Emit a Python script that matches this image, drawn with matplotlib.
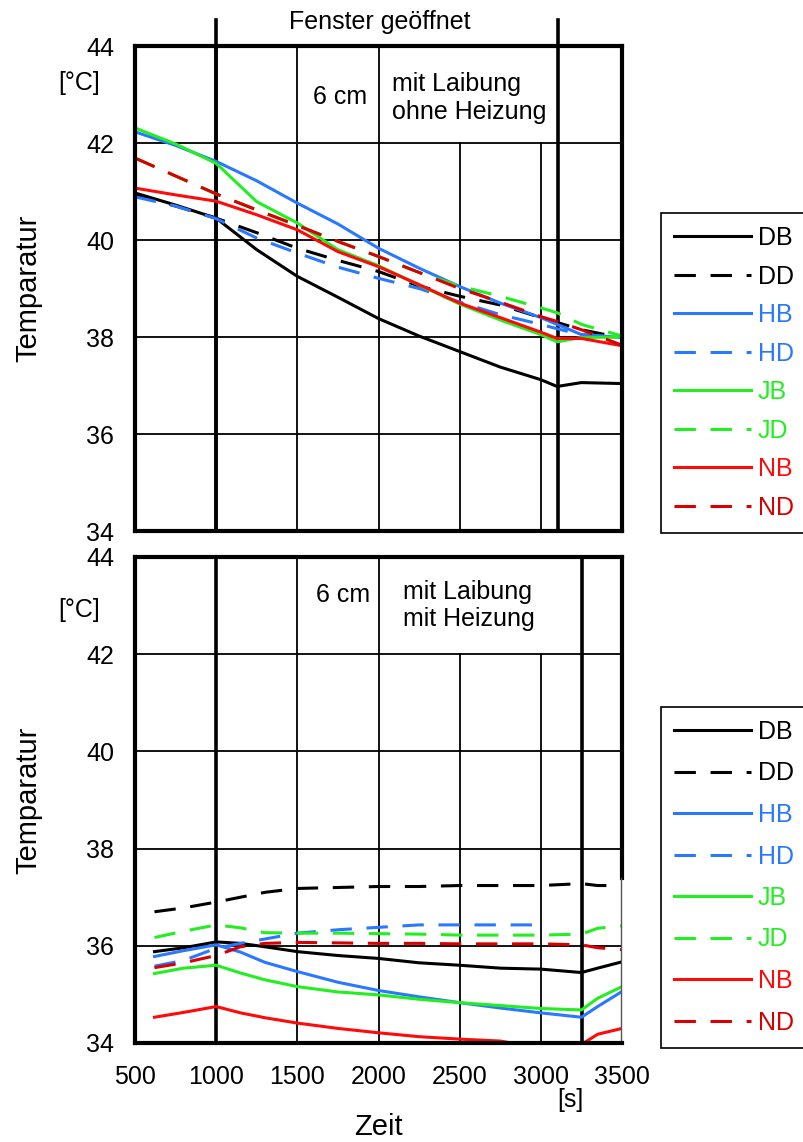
import matplotlib
matplotlib.use("Agg")
import matplotlib.pyplot as plt
import numpy as np

plt.rcParams["font.family"] = ["Liberation Sans", "DejaVu Sans"]

# ---------------------------------------------------------
# DATA
# ---------------------------------------------------------
series = ["DB", "DD", "HB", "HD", "JB", "JD", "NB", "ND"]
colors = {"DB": "black", "DD": "black",
          "HB": "#2a78ff", "HD": "#2a78ff",
          "JB": "#22ee22", "JD": "#22ee22",
          "NB": "#ff0a0a", "ND": "#d80000"}

# top panel: ohne Heizung
t_top = [500, 750, 1000, 1250, 1500, 1750, 2000, 2250, 2500, 2750, 3000, 3100, 3250, 3500]
top_DB = [40.97, 40.72, 40.45, 39.80, 39.25, 38.82, 38.38, 38.02, 37.70, 37.38, 37.12, 36.98, 37.06, 37.04]
top_DD = [40.93, 40.70, 40.45, 40.15, 39.83, 39.58, 39.35, 39.05, 38.84, 38.66, 38.40, 38.30, 38.15, 37.98]
top_HB = [42.23, 41.95, 41.62, 41.22, 40.76, 40.33, 39.83, 39.42, 39.04, 38.70, 38.40, 38.26, 38.05, 37.99]
top_HD = [40.89, 40.70, 40.44, 40.04, 39.73, 39.44, 39.21, 39.00, 38.72, 38.46, 38.26, 38.17, 38.05, 37.99]
top_JB = [42.31, 41.98, 41.58, 40.79, 40.35, 39.80, 39.47, 39.07, 38.68, 38.35, 38.05, 37.90, 37.99, 38.00]
top_JD = [41.69, 41.32, 40.95, 40.62, 40.30, 39.97, 39.66, 39.33, 39.05, 38.84, 38.60, 38.50, 38.26, 38.02]
top_NB = [41.07, 40.93, 40.80, 40.52, 40.21, 39.76, 39.45, 39.08, 38.70, 38.40, 38.10, 37.97, 37.97, 37.82]
top_ND = [41.69, 41.32, 40.95, 40.62, 40.30, 39.97, 39.66, 39.33, 39.00, 38.72, 38.42, 38.32, 38.15, 37.83]

# bottom panel: mit Heizung
t_bot = [620, 800, 1000, 1150, 1300, 1500, 1750, 2000, 2250, 2500, 2750, 3000, 3250, 3350, 3500]
bot_DB = [35.88, 35.96, 36.08, 36.05, 35.98, 35.88, 35.80, 35.74, 35.65, 35.60, 35.54, 35.52, 35.45, 35.54, 35.67]
bot_DD = [36.70, 36.78, 36.90, 37.00, 37.10, 37.18, 37.20, 37.22, 37.22, 37.24, 37.24, 37.24, 37.28, 37.24, 37.24]
bot_HB = [35.78, 35.90, 36.02, 35.87, 35.66, 35.47, 35.25, 35.08, 34.95, 34.83, 34.72, 34.62, 34.53, 34.75, 35.06]
bot_HD = [35.58, 35.70, 35.95, 36.05, 36.14, 36.26, 36.33, 36.38, 36.43, 36.43, 36.43, 36.43, np.nan, np.nan, np.nan]
bot_JB = [35.43, 35.54, 35.60, 35.44, 35.30, 35.16, 35.05, 34.99, 34.90, 34.83, 34.77, 34.71, 34.68, 34.92, 35.16]
bot_JD = [36.17, 36.30, 36.43, 36.37, 36.27, 36.26, 36.26, 36.25, 36.24, 36.22, 36.22, 36.22, 36.24, 36.36, 36.41]
bot_NB = [34.53, 34.63, 34.75, 34.62, 34.52, 34.41, 34.30, 34.21, 34.13, 34.08, 34.04, 33.90, 33.97, 34.18, 34.30]
bot_ND = [35.55, 35.65, 35.80, 35.98, 36.05, 36.07, 36.06, 36.05, 36.05, 36.04, 36.04, 36.04, 36.02, 35.96, 35.92]

top_data = dict(DB=top_DB, DD=top_DD, HB=top_HB, HD=top_HD, JB=top_JB, JD=top_JD, NB=top_NB, ND=top_ND)
bot_data = dict(DB=bot_DB, DD=bot_DD, HB=bot_HB, HD=bot_HD, JB=bot_JB, JD=bot_JD, NB=bot_NB, ND=bot_ND)

yticks = [34, 36, 38, 40, 42, 44]
xticks = [500, 1000, 1500, 2000, 2500, 3000, 3500]

# ---------------------------------------------------------
# FIGURE
# ---------------------------------------------------------
W, H = 804, 1142
fig = plt.figure(figsize=(W / 100, H / 100), dpi=100)

ax1 = fig.add_axes([135 / W, 1 - 531 / H, 487 / W, 485 / H])
ax2 = fig.add_axes([135 / W, 1 - 1043 / H, 487 / W, 486 / H])

fs = 18
lw_data = 2.2
dash = (7, 4.8)


def style_panel(ax, t, data):
    for name in series:
        ls = "-" if name.endswith("B") else (0, dash)
        ax.plot(t, data[name], color=colors[name], lw=lw_data, ls=ls, label=name)
    ax.set_xlim(500, 3500)
    ax.set_ylim(34, 44)
    ax.set_xticks(xticks)
    ax.set_yticks(yticks)
    ax.tick_params(length=0, labelsize=fs)
    ax.tick_params(axis="y", pad=15)
    ax.tick_params(axis="x", pad=16)
    for s in ax.spines.values():
        s.set_linewidth(3)
    # grid (table like)
    for y in [36, 38, 40, 42]:
        ax.axhline(y, color="black", lw=1.3, zorder=1)
    for x in [1500, 2000]:
        ax.axvline(x, color="black", lw=1.3, zorder=1)
    for x in [2500, 3000]:
        ax.axvline(x, ymin=0, ymax=0.8, color="black", lw=1.3, zorder=1)
    ax.axvline(1000, color="black", lw=2.6, zorder=1)


style_panel(ax1, t_top, top_data)
style_panel(ax2, t_bot, bot_data)

ax1.tick_params(axis="x", labelbottom=False)

# window opened markers
ax1.plot([1000, 1000], [34, 44.53], color="black", lw=2.6, clip_on=False, zorder=1)
ax1.plot([3106, 3106], [34, 44.53], color="black", lw=2.6, clip_on=False, zorder=1)
ax2.axvline(3254, color="black", lw=2.6, zorder=1)
ax1.text(2010, 44.5, "Fenster geöffnet", fontsize=fs, ha="center", va="center")

# [°C] labels
ax1.text(-0.072, 43.24, "[°C]", transform=ax1.get_yaxis_transform(), fontsize=fs,
         ha="right", va="center")
ax2.text(-0.072, 42.91, "[°C]", transform=ax2.get_yaxis_transform(), fontsize=fs,
         ha="right", va="center")

# panel text
ax1.text(1929, 42.95, "6 cm", fontsize=fs, ha="right", va="center")
ax1.text(2083, 42.92, "mit Laibung\nohne Heizung", fontsize=fs, ha="left", va="center")
ax2.text(1948, 43.22, "6 cm", fontsize=fs, ha="right", va="center")
ax2.text(2151, 43.0, "mit Laibung\nmit Heizung", fontsize=fs, ha="left", va="center")

# right spine of bottom panel: thick on top, thin below
ax2.spines["right"].set_visible(False)
ax2.plot([3500, 3500], [37.4, 44], color="black", lw=3, clip_on=False)
ax2.plot([3495, 3495], [34, 37.4], color="#555555", lw=1.0, clip_on=False)

# axis labels
fig.text(28 / W, 1 - 288 / H, "Temparatur", rotation=90, fontsize=21, ha="center", va="center")
fig.text(28 / W, 1 - 800 / H, "Temparatur", rotation=90, fontsize=21, ha="center", va="center")
fig.text(570 / W, 1 - 1100 / H, "[s]", fontsize=fs, ha="center", va="center")
fig.text(378 / W, 1 - 1127 / H, "Zeit", fontsize=21, ha="center", va="center")

# legends
for ax, top, spacing in [(ax1, 213, 0.58), (ax2, 707, 0.70)]:
    leg = ax.legend(loc="upper left", bbox_to_anchor=(661 / W, 1 - top / H),
                    bbox_transform=fig.transFigure, borderaxespad=0,
                    fontsize=fs, handlelength=3.08, handletextpad=0.28,
                    labelspacing=spacing, borderpad=0.52, fancybox=False,
                    framealpha=1, edgecolor="black")
    leg.get_frame().set_linewidth(1.2)
    for txt, name in zip(leg.get_texts(), series):
        txt.set_color(colors[name])

fig.savefig("out.png", dpi=100)
